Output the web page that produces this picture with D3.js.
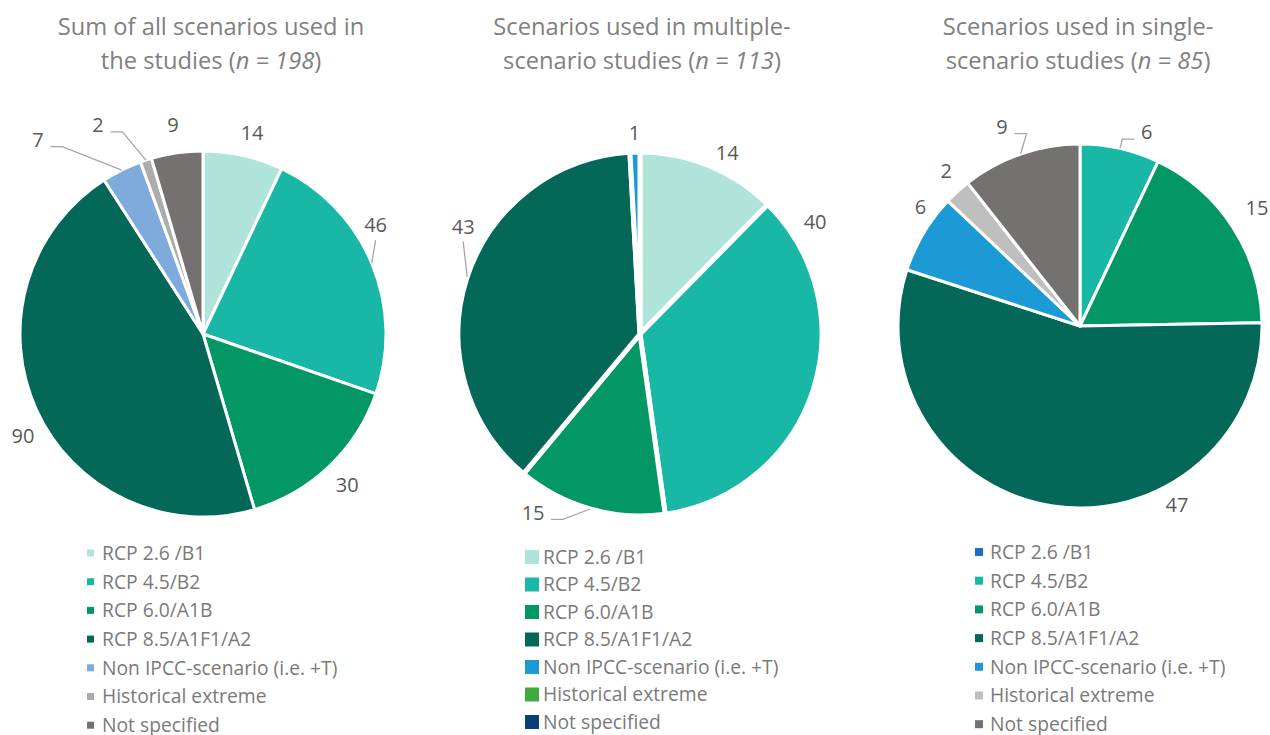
<!DOCTYPE html>
<html>
<head>
<meta charset="utf-8">
<script src="https://cdn.jsdelivr.net/npm/d3@7"></script>
<style>
  body { margin: 0; background: #fff; }
  svg { display: block; font-family: 'Open Sans', Lato, sans-serif; }
</style>
</head>
<body>
<svg id="chart" width="1270" height="735"></svg>
<script>
// categories shared by the three pies
const categories = ['RCP 2.6 /B1', 'RCP 4.5/B2', 'RCP 6.0/A1B', 'RCP 8.5/A1F1/A2',
    'Non IPCC-scenario (i.e. +T)', 'Historical extreme', 'Not specified'];

// values
const allValues = [14, 46, 30, 90, 7, 2, 9];
const multiValues = [14, 40, 15, 43, 1, 0, 0];
const singleValues = [0, 6, 15, 47, 6, 2, 9];

const titleLine1 = ['Sum of all scenarios used in', 'Scenarios used in multiple-', 'Scenarios used in single-'];
const titleLine2 = ['the studies', 'scenario studies', 'scenario studies'];

// colours (each pie uses its own palette, as in the original workbook)
const allColors = ['#b0e3da', '#19b8a6', '#039766', '#036858', '#7eaadc', '#acacac', '#767171'];
const multiColors = ['#b0e3da', '#19b8a6', '#039766', '#036858', '#1b9ad6', '#3daa3d', '#0b3d78'];
const singleColors = ['#1a6fc4', '#19b8a6', '#039766', '#036858', '#1b9ad6', '#bfbfbf', '#767171'];

// label nudges [degrees, px] from the slice middle, and which ones get a leader line
const allShift = [[1, 0], [-9.5, -3], [0, 2], [-5, 0], [-14, 48], [-8.5, 27], [0, 4]];
const multiShift = [[3.4, -6], [-51, 1], [15, 1], [13, 0], [0, -6], [0, 0], [0, 0]];
const singleShift = [[0, 0], [6.3, -2], [-1, 6], [-37, -4], [6, -8], [1.6, -2], [-2.3, 7]];
const allLeader = [0, 1, 0, 0, 1, 1, 0];
const multiLeader = [0, 0, 1, 1, 0, 0, 0];
const singleLeader = [0, 1, 0, 0, 0, 0, 1];

const charts = [
    {values: allValues, colors: allColors, shift: allShift, leader: allLeader,
     cx: 203, cy: 334, r: 183, stroke: 3, titleX: 211,
     legendX: 87, legendY: 553, legendStep: 28.7, swatch: 7, textX: 102},
    {values: multiValues, colors: multiColors, shift: multiShift, leader: multiLeader,
     cx: 640, cy: 334, r: 182, stroke: 5, titleX: 642,
     legendX: 525, legendY: 557, legendStep: 27.5, swatch: 14, textX: 543},
    {values: singleValues, colors: singleColors, shift: singleShift, leader: singleLeader,
     cx: 1080, cy: 326, r: 182, stroke: 3, titleX: 1078,
     legendX: 975, legendY: 552, legendStep: 28.7, swatch: 8, textX: 990}
];

const svg = d3.select('#chart');
const labelR = 207;

const pie = d3.pie().value(d => d.value).sort(null);

charts.forEach((c, ci) => {
    const data = categories.map((cat, i) => ({cat: cat, value: c.values[i], i: i}));
    const n = d3.sum(c.values);

    // title
    const title = svg.append('text')
        .attr('x', c.titleX)
        .attr('text-anchor', 'middle')
        .style('font-size', '23.7px')
        .attr('fill', '#808080');
    title.append('tspan').attr('x', c.titleX).attr('y', 35).text(titleLine1[ci]);
    const l2 = title.append('tspan').attr('x', c.titleX).attr('y', 69);
    l2.append('tspan').text(titleLine2[ci] + ' (');
    l2.append('tspan').style('font-style', 'italic').text('n = ' + n);
    l2.append('tspan').text(')');

    const arc = d3.arc().innerRadius(0).outerRadius(c.r);
    const g = svg.append('g').attr('transform', 'translate(' + c.cx + ',' + c.cy + ')');
    const arcs = pie(data).filter(d => d.value > 0);

    g.selectAll('.slice')
        .data(arcs)
        .enter().append('path')
        .attr('class', 'slice')
        .attr('d', arc)
        .attr('fill', d => c.colors[d.data.i])
        .attr('stroke', '#fff')
        .attr('stroke-width', c.stroke)
        .attr('stroke-linejoin', 'round');

    // labels
    arcs.forEach(d => {
        const mid = (d.startAngle + d.endAngle) / 2;
        const sh = c.shift[d.data.i];
        const a = mid + sh[0] * Math.PI / 180;
        const R = labelR + sh[1];
        const lx = R * Math.sin(a), ly = -R * Math.cos(a);
        const txt = String(d.value);
        const hw = txt.length * 5.5;

        if (c.leader[d.data.i]) {
            const px = c.r * Math.sin(mid), py = -c.r * Math.cos(mid);
            let pts;
            if (Math.abs(lx - px) < hw + 6) {
                pts = [[lx, ly + 15], [px, py]];
            } else {
                const side = px > lx ? 1 : -1;
                const sx = lx + side * (hw + 7);
                pts = [[sx, ly + 7], [sx + side * 12, ly + 7], [px, py]];
            }
            g.append('path')
                .attr('d', d3.line()(pts))
                .attr('fill', 'none')
                .attr('stroke', '#a6a6a6')
                .attr('stroke-width', 1.3);
        }

        g.append('text')
            .attr('x', lx)
            .attr('y', ly)
            .attr('dy', '0.36em')
            .attr('text-anchor', 'middle')
            .style('font-size', '20px')
            .attr('fill', '#595959')
            .text(txt);
    });

    // legend
    const item = svg.selectAll('.legend-' + ci)
        .data(data)
        .enter().append('g')
        .attr('class', 'legend-' + ci)
        .attr('transform', (d, i) => 'translate(0,' + (c.legendY + i * c.legendStep) + ')');

    item.append('rect')
        .attr('x', c.legendX)
        .attr('y', -c.swatch / 2)
        .attr('width', c.swatch)
        .attr('height', c.swatch)
        .attr('fill', d => c.colors[d.i]);

    item.append('text')
        .attr('x', c.textX)
        .attr('dy', '0.36em')
        .style('font-size', '19.3px')
        .attr('fill', '#7a7a7a')
        .text(d => d.cat);
});
</script>
</body>
</html>
